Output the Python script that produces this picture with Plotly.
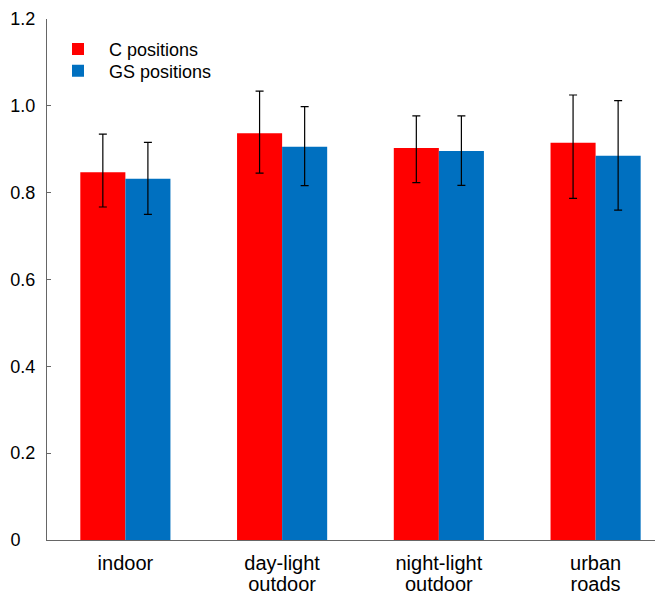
import plotly.graph_objects as go

categories = ["indoor", "day-light outdoor", "night-light outdoor", "urban roads"]
label_line1 = ["indoor", "day-light", "night-light", "urban"]
label_line2 = ["", "outdoor", "outdoor", "roads"]
c_values = [0.847, 0.937, 0.903, 0.915]
c_err_plus = [0.088, 0.097, 0.074, 0.110]
c_err_minus = [0.080, 0.092, 0.080, 0.128]
gs_values = [0.832, 0.906, 0.896, 0.885]
gs_err_plus = [0.084, 0.092, 0.081, 0.127]
gs_err_minus = [0.082, 0.090, 0.079, 0.125]
y_tickvals = [0, 0.2, 0.4, 0.6, 0.8, 1.0, 1.2]
y_ticktext = ["0\u00a0\u00a0\u00a0", "0.2", "0.4", "0.6", "0.8", "1.0", "1.2"]

FONT = "Liberation Sans, Arial, sans-serif"
AXIS_COLOR = "#666666"
X_RANGE = [-0.5, 3.43]

fig = go.Figure()
fig.add_trace(go.Bar(
    x=categories, y=c_values, name="C positions", legend="legend",
    marker=dict(color="#FF0000", line=dict(width=0)),
    error_y=dict(type="data", array=c_err_plus, arrayminus=c_err_minus,
                 color="black", thickness=1.2, width=4),
))
fig.add_trace(go.Bar(
    x=categories, y=gs_values, name="GS positions", legend="legend2",
    marker=dict(color="#0070C0", line=dict(width=0)),
    error_y=dict(type="data", array=gs_err_plus, arrayminus=gs_err_minus,
                 color="black", thickness=1.2, width=4),
))
# empty helper trace so the second-line label axis is drawn
fig.add_trace(go.Scatter(x=[], y=[], xaxis="x2", yaxis="y", showlegend=False,
                         hoverinfo="skip"))

legend_common = dict(x=0.0, xanchor="left", yanchor="middle",
                     bgcolor="rgba(0,0,0,0)", itemwidth=52,
                     font=dict(family=FONT, size=18, color="black"))

fig.update_layout(
    width=655, height=586,
    margin=dict(l=39, r=0, t=11, b=54),
    paper_bgcolor="white", plot_bgcolor="white",
    font=dict(family=FONT, size=17, color="black"),
    barmode="group", bargap=0.425, bargroupgap=0,
    showlegend=True,
    legend=dict(y=0.942, **legend_common),
    legend2=dict(y=0.900, **legend_common),
    xaxis=dict(range=X_RANGE, showline=True, linecolor=AXIS_COLOR, linewidth=1,
               ticks="", showgrid=False, zeroline=False, automargin=False,
               tickvals=categories, ticktext=label_line1,
               tickfont=dict(size=20), ticklabelstandoff=5),
    xaxis2=dict(range=X_RANGE, overlaying="x", anchor="y", side="bottom",
                showline=False, ticks="", showgrid=False, zeroline=False,
                automargin=False,
                tickvals=list(range(len(categories))), ticktext=label_line2,
                tickfont=dict(size=20), ticklabelstandoff=30),
    yaxis=dict(range=[0, 1.2], showline=True, linecolor=AXIS_COLOR, linewidth=1,
               ticks="inside", ticklen=4, tickcolor=AXIS_COLOR,
               tickvals=y_tickvals, ticktext=y_ticktext, automargin=False,
               showgrid=False, zeroline=False, tickfont=dict(size=18),
               ticklabelstandoff=7),
)

fig.write_html("out.html")
